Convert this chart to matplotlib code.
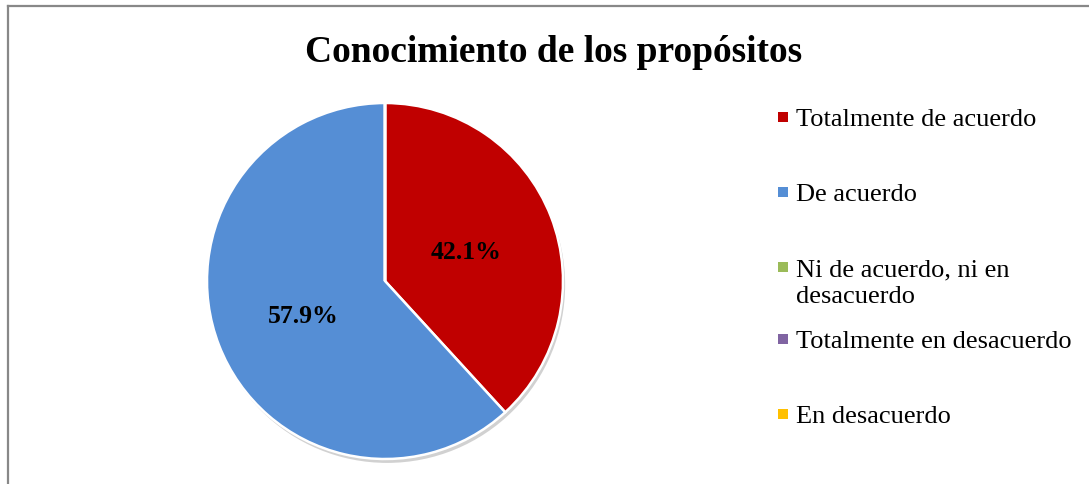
import matplotlib
matplotlib.use('Agg')
import matplotlib.pyplot as plt
import matplotlib.patches as patches
from matplotlib.lines import Line2D

plt.rcParams['font.family'] = ['Liberation Serif', 'DejaVu Serif']

# datos
categorias = ['Totalmente de acuerdo', 'De acuerdo', 'Ni de acuerdo, ni en\ndesacuerdo',
              'Totalmente en desacuerdo', 'En desacuerdo']
# proporción de cada sector tal como se ve en el dibujo
porciones = [38.2, 61.8, 0, 0, 0]
# etiquetas impresas en el gráfico
etiquetas = ['42.1%', '57.9%', '', '', '']
colores = ['#C00000', '#558ED5', '#9BBB59', '#8064A2', '#FFC000']
titulo = 'Conocimiento de los propósitos'

W, H = 1089, 485
fig = plt.figure(figsize=(W / 100, H / 100), dpi=100)

# marco del gráfico
fig.add_artist(Line2D([8 / W, 1], [1 - 7 / H, 1 - 7 / H], color='#888888', lw=1.6))
fig.add_artist(Line2D([8 / W, 8 / W], [0, 1 - 7 / H], color='#888888', lw=1.6))

# torta
cx, cy, r = 385, 282, 178
ax = fig.add_axes([(cx - r) / W, 1 - (cy + r) / H, 2 * r / W, 2 * r / H])
sombra = patches.Circle((0.012, -0.022), 1.0, facecolor='#9a9a9a', alpha=0.45,
                        edgecolor='none', zorder=0)
ax.add_patch(sombra)
sombra.set_clip_on(False)
wedges, textos = ax.pie(porciones, colors=colores, labels=etiquetas, startangle=90,
                        counterclock=False, labeldistance=0.49, radius=1.0,
                        wedgeprops=dict(edgecolor='white', linewidth=1.8))
for w in wedges:
    w.set_clip_on(False)
for t in textos:
    t.set_ha('center')
    t.set_va('center_baseline')
    t.set_fontsize(18.5)
    t.set_fontweight('bold')
    t.set_color('black')
ax.set_xlim(-1.0, 1.0)
ax.set_ylim(-1.0, 1.0)
ax.set_aspect('equal')
ax.axis('off')

fig.text(554 / W, 1 - 53 / H, titulo, ha='center', va='center', fontsize=27, fontweight='bold')

# leyenda
ys = [118, 193, 268, 340, 415]
for cat, col, y in zip(categorias, colores, ys):
    fig.add_artist(patches.Rectangle((778 / W, 1 - (y + 5) / H), 10 / W, 10 / H,
                                     facecolor=col, edgecolor='none'))
    fig.text(796 / W, 1 - (y - 9) / H, cat, ha='left', va='top', fontsize=19,
             linespacing=1.32)

fig.savefig('out.png', dpi=100)
